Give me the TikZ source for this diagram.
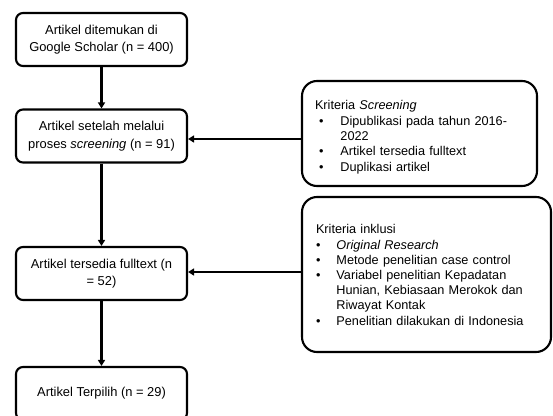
\documentclass[tikz,border=0pt]{standalone}
\usepackage{fontspec}
\setmainfont{Liberation Sans}
\usetikzlibrary{arrows.meta}
\begin{document}
\begin{tikzpicture}[x=1pt,y=-1pt,
	flowbox/.style={draw,line width=2.1pt,rounded corners=7pt,
		minimum width=171pt,minimum height=53pt,align=center,
		font=\fontsize{12.9}{17.5}\selectfont},
	critbox/.style={draw,line width=2.1pt,rounded corners=15pt,
		align=left,inner ysep=0pt,
		font=\fontsize{12.7}{15.2}\selectfont},
	flow/.style={line width=2.2pt,-{Triangle[length=6pt,width=7pt]}}]
\useasboundingbox (0,0) rectangle (553,415);
\clip (0,0) rectangle (553,415);
\node[flowbox] (found) at (101.5,39.5)
	{Artikel ditemukan di\\Google Scholar (n = 400)};
\node[flowbox] (screened) at (101.5,136)
	{Artikel setelah melalui\\proses \textit{screening} (n = 91)};
\node[flowbox] (fulltext) at (101.5,273.5)
	{Artikel tersedia fulltext (n\\= 52)};
\node[flowbox] (chosen) at (101.5,393.5)
	{Artikel Terpilih (n = 29)};
\node[critbox,minimum width=235pt,minimum height=105pt,
	text width=209pt,inner xsep=13pt] (critscreen) at (419.5,133.5)
	{\begin{tabular}{@{}l@{\hspace{17pt}}l@{}}
	\multicolumn{2}{@{}l}{Kriteria \textit{Screening}}\\[0.5pt]
	\hspace{4pt}\textbullet & Dipublikasi pada tahun 2016-\\
	& 2022\\
	\hspace{4pt}\textbullet & Artikel tersedia fulltext\\
	\hspace{4pt}\textbullet & Duplikasi artikel\\[-8pt]
	\end{tabular}};
\node[critbox,minimum width=249pt,minimum height=155pt,
	text width=221pt,inner xsep=14pt] (critinclude) at (426.5,274.5)
	{\begin{tabular}{@{}l@{\hspace{16pt}}l@{}}
	\multicolumn{2}{@{}l}{Kriteria inklusi}\\
	\textbullet & \textit{Original Research}\\
	\textbullet & Metode penelitian case control\\
	\textbullet & Variabel penelitian Kepadatan\\
	& Hunian, Kebiasaan Merokok dan\\
	& Riwayat Kontak\\
	\textbullet & Penelitian dilakukan di Indonesia\\[-4pt]
	\end{tabular}};
\draw[flow] (found) -- (screened);
\draw[flow] (screened) -- (fulltext);
\draw[flow] (fulltext) -- (chosen);
\draw[flow] (critscreen.west |- 0,139) -- (screened.east |- 0,139);
\draw[flow] (critinclude.west |- 0,272) -- (fulltext.east |- 0,272);
\end{tikzpicture}
\end{document}
